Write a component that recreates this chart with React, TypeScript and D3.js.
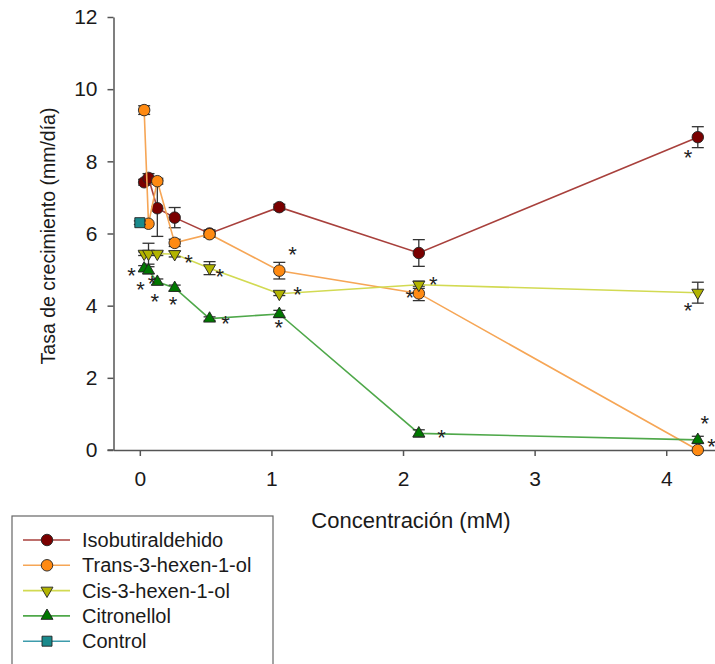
import React, { useEffect, useRef } from 'react';
import * as d3 from 'd3';

// concentrations (mM) shared by the four compounds
const conc = [0.033, 0.066, 0.133, 0.265, 0.53, 1.06, 2.12, 4.24];

const isobutVals = [7.42, 7.54, 6.7, 6.44, 6.0, 6.73, 5.46, 8.67];
const isobutErr = [0.08, 0.12, 0.78, 0.28, 0.1, 0.08, 0.37, 0.29];

const transVals = [9.42, 6.27, 7.45, 5.74, 5.98, 4.97, 4.34, 0.0];
const transErr = [0.12, 0, 0.08, 0.1, 0.08, 0.23, 0.2, 0];

const cisVals = [5.44, 5.44, 5.44, 5.43, 5.04, 4.33, 4.58, 4.36];
const cisErr = [0.05, 0.29, 0.05, 0.08, 0.18, 0.05, 0.1, 0.29];

const citroVals = [5.03, 4.98, 4.66, 4.49, 3.64, 3.77, 0.46, 0.28];
const citroErr = [0.08, 0.1, 0.08, 0.08, 0.05, 0.1, 0.1, 0.1];

const controlConc = [0];
const controlVals = [6.3];
const controlErr = [0.05];

// significance asterisks (concentration, rate)
const starX = [-0.063, 0.093, 0.005, 0.114, 0.253, 0.371, 0.608, 1.16, 1.198, 0.651, 1.056, 2.229, 2.052, 4.166, 2.293, 4.293, 4.344, 4.166];
const starY = [4.96, 4.73, 4.56, 4.23, 4.17, 5.31, 4.93, 5.55, 4.43, 3.62, 3.52, 4.71, 4.35, 3.99, 0.46, 0.85, 0.23, 8.23];

const xTicks = [0, 1, 2, 3, 4];
const yTicks = [0, 2, 4, 6, 8, 10, 12];

const seriesNames = ['Isobutiraldehido', 'Trans-3-hexen-1-ol', 'Cis-3-hexen-1-ol', 'Citronellol', 'Control'];

const FONT = 'Liberation Sans, Arial, sans-serif';

type Series = {
  name: string;
  xs: number[];
  ys: number[];
  err: number[];
  fill: string;
  line: string;
  shape: string;
};

const series: Series[] = [
  { name: seriesNames[0], xs: conc, ys: isobutVals, err: isobutErr, fill: '#7a0000', line: '#a8403c', shape: 'circle' },
  { name: seriesNames[1], xs: conc, ys: transVals, err: transErr, fill: '#ff8a12', line: '#f6a656', shape: 'circle' },
  { name: seriesNames[2], xs: conc, ys: cisVals, err: cisErr, fill: '#b2b400', line: '#d2da52', shape: 'down' },
  { name: seriesNames[3], xs: conc, ys: citroVals, err: citroErr, fill: '#007800', line: '#4fa84a', shape: 'up' },
  { name: seriesNames[4], xs: controlConc, ys: controlVals, err: controlErr, fill: '#1a8a8c', line: '#3e9cac', shape: 'square' },
];

function symbolPath(shape: string) {
  if (shape === 'circle') return d3.symbol(d3.symbolCircle, 104)();
  if (shape === 'square') return d3.symbol(d3.symbolSquare, 100)();
  return d3.symbol(d3.symbolTriangle, 62)();
}

const App = () => {
  const svgRef = useRef<SVGSVGElement>(null);

  useEffect(() => {
    const svg = d3.select(svgRef.current);
    svg.selectAll('*').remove();

    const x = d3.scaleLinear().domain([-0.2, 4.5]).range([113.5, 113.5 + 4.7 * 131.6]);
    const y = d3.scaleLinear().domain([0, 12]).range([450, 17]);

    // axes
    const gy = svg.append('g')
      .attr('transform', 'translate(113.5,0)')
      .call(d3.axisLeft(y).tickValues(yTicks).tickSize(6).tickSizeOuter(0).tickPadding(10).tickFormat(d3.format('d')));
    const gx = svg.append('g')
      .attr('transform', 'translate(0,450)')
      .call(d3.axisBottom(x).tickValues(xTicks).tickSize(6).tickSizeOuter(0).tickPadding(15).tickFormat(d3.format('d')));
    [gx, gy].forEach(g => {
      g.selectAll('path, line').attr('stroke', '#555').attr('stroke-width', 1.5);
      g.selectAll('text').attr('font-family', FONT).attr('font-size', 21).attr('fill', '#1a1a1a');
    });
    svg.append('line')
      .attr('x1', 107.5).attr('x2', 113.5).attr('y1', 450).attr('y2', 450)
      .attr('stroke', '#555').attr('stroke-width', 1.5);

    // axis titles
    svg.append('text')
      .attr('transform', 'translate(48,236) rotate(-90)')
      .attr('text-anchor', 'middle')
      .attr('dominant-baseline', 'central')
      .attr('font-family', FONT).attr('font-size', 19.5).attr('fill', '#1a1a1a')
      .text('Tasa de crecimiento (mm/día)');
    svg.append('text')
      .attr('x', 411).attr('y', 520)
      .attr('text-anchor', 'middle')
      .attr('dominant-baseline', 'central')
      .attr('font-family', FONT).attr('font-size', 22).attr('fill', '#1a1a1a')
      .text('Concentración (mM)');

    // series: line, error bars, markers
    series.forEach(s => {
      const pts = s.xs.map((c, i) => ({ c, v: s.ys[i], e: s.err[i] }));
      const g = svg.append('g');
      if (pts.length > 1) {
        g.append('path')
          .datum(pts)
          .attr('fill', 'none')
          .attr('stroke', s.line)
          .attr('stroke-width', 1.6)
          .attr('d', d3.line<any>().x(d => x(d.c)).y(d => y(d.v)));
      }
      const eb = g.selectAll('g.eb').data(pts.filter(d => d.e > 0)).enter().append('g')
        .attr('stroke', '#333').attr('stroke-width', 1.3);
      eb.append('line')
        .attr('x1', d => x(d.c)).attr('x2', d => x(d.c))
        .attr('y1', d => y(d.v - d.e)).attr('y2', d => y(d.v + d.e));
      eb.append('line')
        .attr('x1', d => x(d.c) - 6).attr('x2', d => x(d.c) + 6)
        .attr('y1', d => y(d.v + d.e)).attr('y2', d => y(d.v + d.e));
      eb.append('line')
        .attr('x1', d => x(d.c) - 6).attr('x2', d => x(d.c) + 6)
        .attr('y1', d => y(d.v - d.e)).attr('y2', d => y(d.v - d.e));
      g.selectAll('path.m').data(pts).enter().append('path')
        .attr('d', symbolPath(s.shape))
        .attr('transform', d => `translate(${x(d.c)},${y(d.v)})${s.shape === 'down' ? ' rotate(180)' : ''}`)
        .attr('fill', s.fill)
        .attr('stroke', '#222')
        .attr('stroke-width', 0.9);
    });

    // asterisks
    svg.append('g').selectAll('text').data(starX.map((c, i) => ({ c, v: starY[i] }))).enter().append('text')
      .attr('x', d => x(d.c))
      .attr('y', d => y(d.v) + 12)
      .attr('text-anchor', 'middle')
      .attr('font-family', FONT).attr('font-size', 22).attr('fill', '#222')
      .text('*');

    // legend
    const lg = svg.append('g');
    lg.append('rect')
      .attr('x', 12).attr('y', 516).attr('width', 261).attr('height', 170)
      .attr('fill', 'white').attr('stroke', '#666').attr('stroke-width', 1.2);
    series.forEach((s, i) => {
      const ry = 540 + i * 25.3;
      lg.append('line')
        .attr('x1', 23).attr('x2', 70).attr('y1', ry).attr('y2', ry)
        .attr('stroke', s.line).attr('stroke-width', 1.6);
      lg.append('path')
        .attr('d', symbolPath(s.shape))
        .attr('transform', `translate(47,${ry})${s.shape === 'down' ? ' rotate(180)' : ''}`)
        .attr('fill', s.fill).attr('stroke', '#222').attr('stroke-width', 0.9);
      lg.append('text')
        .attr('x', 82).attr('y', ry)
        .attr('dominant-baseline', 'central')
        .attr('font-family', FONT).attr('font-size', 20).attr('fill', '#1a1a1a')
        .text(s.name);
    });
  }, []);

  return (
    <svg
      ref={svgRef}
      width={715}
      height={664}
      style={{ position: 'absolute', left: 0, top: 0, background: 'white' }}
    />
  );
};

export default App;
